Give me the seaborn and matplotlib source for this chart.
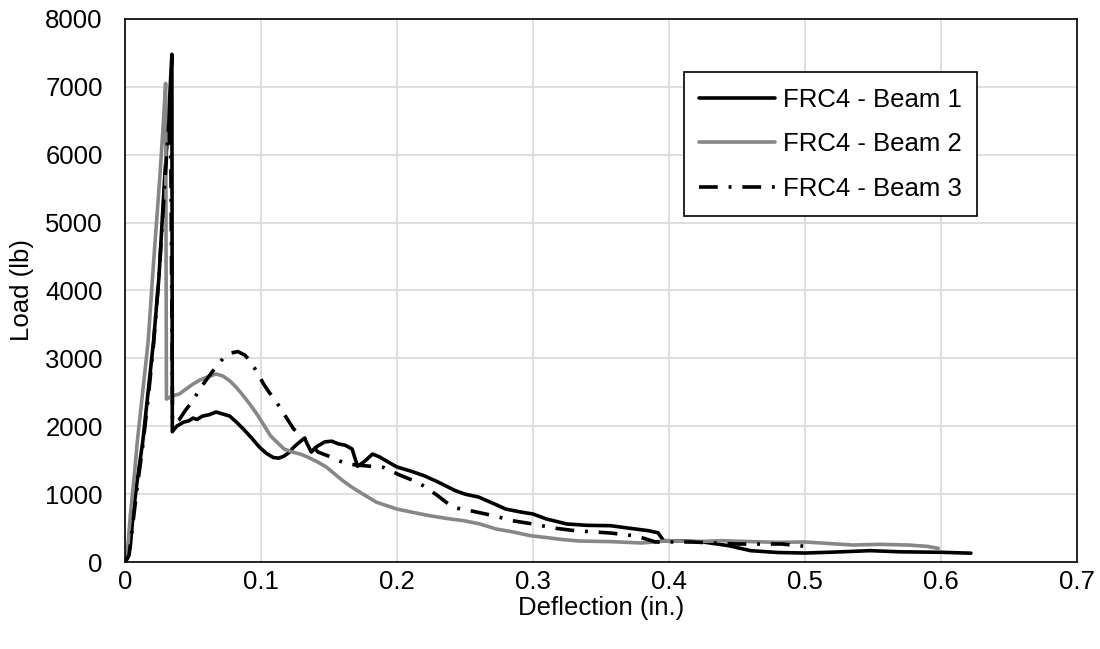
import matplotlib
matplotlib.use("Agg")
import matplotlib.pyplot as plt
import seaborn as sns
import pandas as pd

# ---- data ----
labels = ["FRC4 - Beam 1", "FRC4 - Beam 2", "FRC4 - Beam 3"]

defl_b1 = [0, 0.002, 0.004, 0.006, 0.009, 0.013, 0.017, 0.021, 0.025, 0.029, 0.032, 0.0345,
           0.0348, 0.038, 0.043, 0.047, 0.05, 0.053, 0.057, 0.062, 0.067, 0.072, 0.077, 0.082,
           0.087, 0.093, 0.099, 0.104, 0.109, 0.113, 0.117, 0.121, 0.124, 0.128, 0.132, 0.135,
           0.137, 0.141, 0.147, 0.152, 0.157, 0.162, 0.167, 0.171, 0.176, 0.182, 0.187, 0.193,
           0.2, 0.21, 0.22, 0.23, 0.243, 0.25, 0.26, 0.27, 0.28, 0.29, 0.3, 0.31, 0.325, 0.34,
           0.357, 0.37, 0.385, 0.392, 0.396, 0.41, 0.425, 0.444, 0.46, 0.48, 0.5, 0.52, 0.548,
           0.57, 0.6, 0.622]
load_b1 = [0, 60, 250, 700, 1200, 1760, 2500, 3250, 4200, 5600, 6500, 7480,
           1920, 2000, 2060, 2080, 2120, 2100, 2150, 2170, 2210, 2180, 2150, 2060,
           1960, 1830, 1690, 1600, 1540, 1530, 1560, 1620, 1690, 1760, 1825, 1700,
           1620, 1700, 1770, 1780, 1740, 1720, 1665, 1410, 1480, 1590, 1550, 1480,
           1400, 1340, 1271, 1180, 1050, 1000, 957, 870, 780, 740, 707, 633, 560, 540,
           535, 500, 461, 430, 314, 310, 295, 240, 167, 140, 132, 145, 167,
           150, 143, 130]

defl_b2 = [0, 0.002, 0.004, 0.007, 0.009, 0.013, 0.017, 0.021, 0.0257, 0.028, 0.0299,
           0.0305, 0.035, 0.04, 0.045, 0.05, 0.055, 0.06, 0.067, 0.072, 0.077, 0.082, 0.087,
           0.092, 0.097, 0.102, 0.107, 0.112, 0.117, 0.123, 0.129, 0.135, 0.142, 0.148, 0.154,
           0.16, 0.167, 0.175, 0.185, 0.2, 0.212, 0.224, 0.237, 0.249, 0.261, 0.273, 0.286,
           0.298, 0.31, 0.322, 0.334, 0.357, 0.38, 0.4, 0.42, 0.439, 0.46, 0.48, 0.5, 0.535,
           0.555, 0.576, 0.59, 0.598]
load_b2 = [0, 200, 700, 1300, 1760, 2500, 3240, 4400, 5690, 6400, 7050,
           2400, 2450, 2475, 2550, 2620, 2680, 2720, 2770, 2740, 2670, 2570, 2450,
           2320, 2180, 2020, 1860, 1760, 1665, 1620, 1590, 1540, 1470, 1400, 1300,
           1200, 1100, 1000, 880, 780, 730, 682, 640, 609, 560, 486, 440,
           388, 360, 330, 309, 300, 280, 314, 300, 314, 300, 290, 295, 250,
           260, 250, 230, 201]

defl_b3 = [0, 0.003, 0.006, 0.009, 0.013, 0.017, 0.021, 0.025, 0.029, 0.032, 0.0335,
           0.035, 0.04, 0.045, 0.05, 0.055, 0.063, 0.068, 0.073, 0.078, 0.083, 0.088, 0.092,
           0.097, 0.102, 0.106, 0.11, 0.117, 0.124, 0.132, 0.142, 0.151, 0.163, 0.175, 0.19,
           0.202, 0.216, 0.229, 0.241, 0.256, 0.271, 0.285, 0.3, 0.315, 0.331, 0.357, 0.376,
           0.39, 0.417, 0.45, 0.483, 0.5]
load_b3 = [0, 100, 600, 1100, 1700, 2400, 3200, 4200, 5500, 6400, 6700,
           2050, 2100, 2250, 2375, 2550, 2770, 2900, 3020, 3080, 3100, 3050, 2965,
           2800, 2620, 2500, 2400, 2180, 1960, 1825, 1620, 1550, 1443, 1420, 1395,
           1281, 1168, 991, 806, 747, 682, 608, 560, 501, 461, 427, 383,
           295, 295, 265, 265, 231]

x_ticks = [0, 0.1, 0.2, 0.3, 0.4, 0.5, 0.6, 0.7]
x_ticklabels = ["0", "0.1", "0.2", "0.3", "0.4", "0.5", "0.6", "0.7"]
y_ticks = [0, 1000, 2000, 3000, 4000, 5000, 6000, 7000, 8000]

# ---- styling ----
sns.set_style("white")
plt.rcParams["font.family"] = ["Liberation Sans", "DejaVu Sans"]
plt.rcParams["text.color"] = "black"
plt.rcParams["axes.labelcolor"] = "black"
plt.rcParams["xtick.color"] = "black"
plt.rcParams["ytick.color"] = "black"
FS = 18.5

fig = plt.figure(figsize=(11, 6.49), dpi=100)
ax = fig.add_axes([0.1136, 1 - 562 / 649, 0.8655, (562 - 19) / 649])

LW = 2.6
series = [
    (defl_b1, load_b1, dict(color="black", lw=LW, linestyle="-")),
    (defl_b2, load_b2, dict(color="#878787", lw=LW, linestyle="-")),
    (defl_b3, load_b3, dict(color="black", lw=LW, linestyle=(0, (5.2, 3.0, 0.8, 3.0)))),
]
for (xs, ys, st), lab in zip(series, labels):
    df = pd.DataFrame({"Deflection": xs, "Load": ys})
    sns.lineplot(data=df, x="Deflection", y="Load", ax=ax, sort=False, estimator=None,
                 label=lab, **st)

ax.set_xlim(0, 0.7)
ax.set_ylim(0, 8000)
ax.set_xticks(x_ticks)
ax.set_xticklabels(x_ticklabels)
ax.set_yticks(y_ticks)
ax.grid(True, color="#d9d9d9", lw=1.2)
ax.set_axisbelow(True)
for s in ax.spines.values():
    s.set_color("black")
    s.set_linewidth(1.2)
ax.tick_params(axis="both", length=0, labelsize=FS, colors="black")
ax.tick_params(axis="y", pad=16)
ax.tick_params(axis="x", pad=6)
ax.set_xlabel("Deflection (in.)", fontsize=FS, labelpad=1.5, color="black")
ax.set_ylabel("Load (lb)", fontsize=FS, labelpad=8, color="black")

leg = ax.legend(loc="upper left", bbox_to_anchor=(0.587, 0.902), fontsize=FS,
                frameon=True, fancybox=False, framealpha=1, edgecolor="black",
                handlelength=2.95, handletextpad=0.3, labelspacing=0.8,
                borderpad=0.6, borderaxespad=0)
leg.get_frame().set_linewidth(1.2)
for t in leg.get_texts():
    t.set_color("black")

fig.savefig("out.png", dpi=100)
